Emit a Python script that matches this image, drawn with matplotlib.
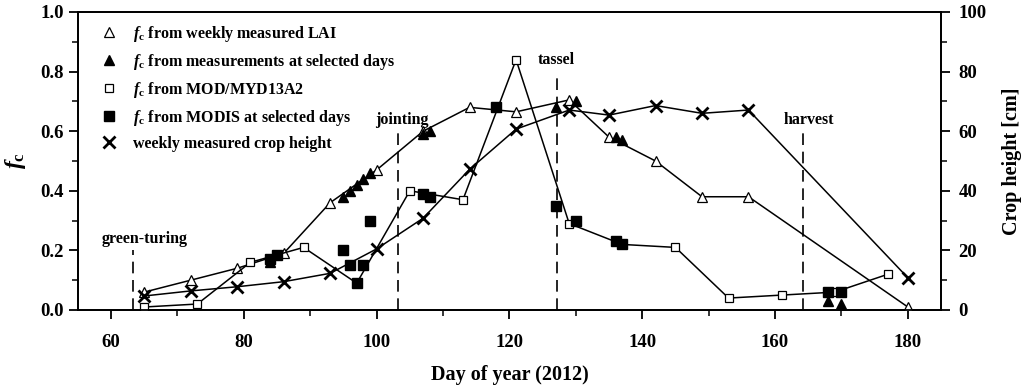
import matplotlib
matplotlib.use("Agg")
import matplotlib.pyplot as plt
from matplotlib.lines import Line2D
from matplotlib.ticker import MultipleLocator

plt.rcParams['font.family'] = ['Liberation Serif', 'DejaVu Serif']
plt.rcParams['font.weight'] = 'bold'
plt.rcParams['mathtext.fontset'] = 'custom'
plt.rcParams['mathtext.rm'] = 'Liberation Serif:bold'
plt.rcParams['mathtext.it'] = 'Liberation Serif:italic'
plt.rcParams['mathtext.bf'] = 'Liberation Serif:bold'

# ---- data ----
lai_days = [65, 72, 79, 86, 93, 100, 107, 114, 121, 129, 135, 142, 149, 156, 180]
lai_fc = [0.06, 0.10, 0.14, 0.19, 0.36, 0.47, 0.60, 0.68, 0.665, 0.705, 0.58, 0.50, 0.38, 0.38, 0.01]

sel_days = [84, 95, 96, 97, 98, 99, 107, 108, 127, 130, 136, 137, 168, 170]
sel_fc = [0.16, 0.38, 0.40, 0.42, 0.44, 0.46, 0.59, 0.60, 0.68, 0.70, 0.58, 0.57, 0.03, 0.02]

mod_days = [65, 73, 81, 89, 97, 105, 113, 121, 129, 137, 145, 153, 161, 169, 177]
mod_fc = [0.01, 0.02, 0.16, 0.21, 0.09, 0.40, 0.37, 0.84, 0.29, 0.22, 0.21, 0.04, 0.05, 0.06, 0.12]

modsel_days = [84, 85, 95, 96, 97, 98, 99, 107, 108, 118, 127, 130, 136, 137, 168, 170]
modsel_fc = [0.17, 0.185, 0.20, 0.15, 0.09, 0.15, 0.30, 0.39, 0.38, 0.68, 0.35, 0.30, 0.23, 0.22, 0.06, 0.06]

height_days = [65, 72, 79, 86, 93, 100, 107, 114, 121, 129, 135, 142, 149, 156, 180]
height_cm = [4.7, 6.4, 7.8, 9.5, 12.3, 20.5, 30.8, 47.2, 60.7, 67.1, 65.4, 68.6, 66.0, 67.1, 10.8]

stage_names = ['green-turing', 'jointing', 'tassel', 'harvest']
stage_days = [63.3, 103.2, 127.2, 164.2]
stage_tops = [0.20, 0.60, 0.80, 0.60]

legend_labels = [r'$f_\mathrm{c}$ from weekly measured LAI',
                 r'$f_\mathrm{c}$ from measurements at selected days',
                 r'$f_\mathrm{c}$ from MOD/MYD13A2',
                 r'$f_\mathrm{c}$ from MODIS at selected days',
                 'weekly measured crop height']

# ---- figure ----
fig = plt.figure(figsize=(10.24, 3.87), dpi=100)
ax = fig.add_axes([0.076, 0.199, 0.843, 0.770])
ax2 = ax.twinx()

lw = 1.1
ax.plot(lai_days, lai_fc, color='black', lw=lw, marker='^', ms=6.5,
        mfc='white', mec='black', mew=0.9, zorder=3)
ax.plot(mod_days, mod_fc, color='black', lw=lw, marker='s', ms=6,
        mfc='white', mec='black', mew=0.9, zorder=3)
ax.plot(sel_days, sel_fc, ls='none', marker='^', ms=7.5, color='black', zorder=4)
ax.plot(modsel_days, modsel_fc, ls='none', marker='s', ms=7, color='black', zorder=4)
ax2.plot(height_days, height_cm, color='black', lw=lw, marker='x', ms=8, mew=2.0, zorder=3)

label_shift = {'green-turing': 1.8, 'jointing': 0.6, 'tassel': -0.2, 'harvest': 0.9}
for name, d, top in zip(stage_names, stage_days, stage_tops):
    ax.plot([d, d], [0, top], color='black', lw=1.2, dashes=(7, 4), zorder=2)
    ax.text(d + label_shift[name], top + 0.012, name, ha='center', va='bottom',
            fontsize=11.5, fontweight='bold')

ax.set_xlim(55, 185)
ax.set_ylim(0, 1.0)
ax2.set_ylim(0, 100)

ax.xaxis.set_major_locator(MultipleLocator(20))
ax.xaxis.set_minor_locator(MultipleLocator(10))
ax.yaxis.set_major_locator(MultipleLocator(0.2))
ax.yaxis.set_minor_locator(MultipleLocator(0.1))
ax2.yaxis.set_major_locator(MultipleLocator(20))
ax2.yaxis.set_minor_locator(MultipleLocator(10))
ax.yaxis.set_major_formatter(plt.FuncFormatter(lambda v, p: f'{v:.1f}'))

for a in (ax, ax2):
    for s in a.spines.values():
        s.set_linewidth(1.3)
    a.tick_params(which='major', direction='out', length=6.5, width=1.3, labelsize=13.5)
    a.tick_params(which='minor', direction='out', length=4, width=1.1)
ax.tick_params(axis='both', which='both', top=False, right=False)
ax.tick_params(axis='x', pad=11)
ax2.tick_params(axis='y', which='both', left=False, right=True, pad=6)

ax.set_xlabel('Day of year (2012)', fontsize=14.5, fontweight='bold', labelpad=10)
ax.set_ylabel(r'$f_\mathrm{c}$', fontsize=17, labelpad=9)
ax2.set_ylabel('Crop height [cm]', fontsize=14.5, fontweight='bold', labelpad=11)

handles = [
    Line2D([], [], ls='none', marker='^', ms=6.5, mfc='white', mec='black', mew=0.9),
    Line2D([], [], ls='none', marker='^', ms=7.5, color='black'),
    Line2D([], [], ls='none', marker='s', ms=6, mfc='white', mec='black', mew=0.9),
    Line2D([], [], ls='none', marker='s', ms=7, color='black'),
    Line2D([], [], ls='none', marker='x', ms=8, mew=2.0, color='black'),
]
leg = ax.legend(handles, legend_labels, loc='upper left', bbox_to_anchor=(0.01, 1.008),
                frameon=False, handlelength=1.0, handletextpad=1.0,
                labelspacing=0.5, prop={'weight': 'bold', 'size': 11.5})

fig.savefig('out.png', dpi=100)
